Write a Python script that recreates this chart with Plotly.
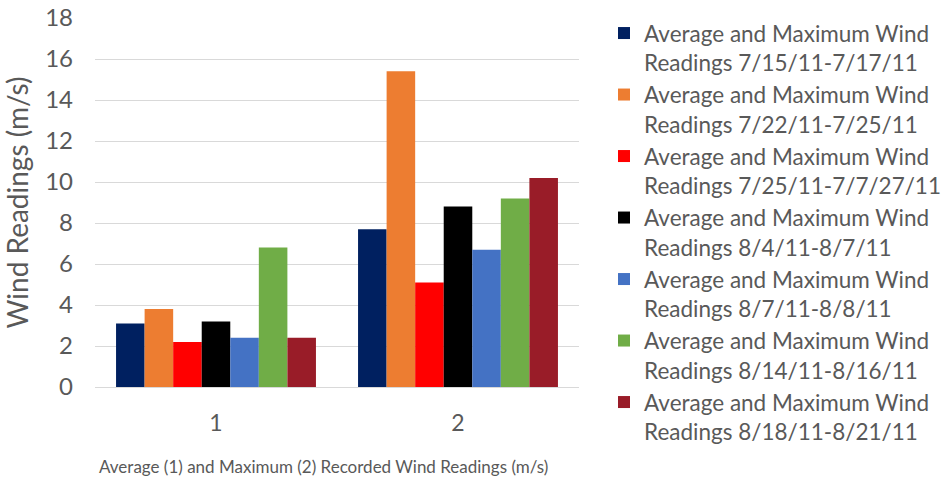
import plotly.graph_objects as go

categories = ["1", "2"]
series_names = [
    "Average and Maximum Wind<br>Readings 7/15/11-7/17/11",
    "Average and Maximum Wind<br>Readings 7/22/11-7/25/11",
    "Average and Maximum Wind<br>Readings 7/25/11-7/7/27/11",
    "Average and Maximum Wind<br>Readings 8/4/11-8/7/11",
    "Average and Maximum Wind<br>Readings 8/7/11-8/8/11",
    "Average and Maximum Wind<br>Readings 8/14/11-8/16/11",
    "Average and Maximum Wind<br>Readings 8/18/11-8/21/11",
]
series_values = [
    [3.1, 7.7],
    [3.8, 15.4],
    [2.2, 5.1],
    [3.2, 8.8],
    [2.4, 6.7],
    [6.8, 9.2],
    [2.4, 10.2],
]
series_colors = ["#002060", "#ED7D31", "#FF0000", "#000000", "#4472C4", "#70AD47", "#991C28"]
y_ticks = [0, 2, 4, 6, 8, 10, 12, 14, 16, 18]

FONT = "Lato"
GREY = "#595959"

fig = go.Figure()
for name, vals, col in zip(series_names, series_values, series_colors):
    fig.add_trace(go.Bar(x=categories, y=vals, name=name, marker=dict(color=col, line=dict(width=0))))

fig.update_layout(
    width=945,
    height=490,
    margin=dict(l=95, r=366, t=18, b=103, autoexpand=False),
    plot_bgcolor="white",
    paper_bgcolor="white",
    barmode="group",
    bargap=0.174,
    bargroupgap=0,
    font=dict(family=FONT, color=GREY, size=22),
    xaxis=dict(
        type="category",
        showgrid=False,
        showline=False,
        ticks="",
        ticklabelstandoff=20,
        tickfont=dict(size=23, color=GREY),
    ),
    yaxis=dict(
        range=[0, 18],
        tickvals=y_ticks,
        showgrid=True,
        gridcolor="#D9D9D9",
        gridwidth=1,
        zeroline=True,
        zerolinecolor="#D9D9D9",
        zerolinewidth=1,
        showline=False,
        ticks="",
        ticklabelstandoff=21,
        tickfont=dict(size=24, color=GREY),
        title=dict(text="Wind Readings (m/s)", font=dict(size=28, color=GREY), standoff=12),
    ),
    legend=dict(
        x=1.0517,
        xanchor="left",
        y=1.0165,
        yanchor="top",
        valign="top",
        maxheight=480,
        font=dict(size=22.5, color=GREY),
        bgcolor="rgba(0,0,0,0)",
        tracegroupgap=0,
    ),
    annotations=[
        dict(
            text="Average (1) and Maximum (2) Recorded Wind Readings (m/s)",
            xref="paper", yref="paper",
            x=0.473, y=-0.215,
            xanchor="center", yanchor="middle",
            showarrow=False,
            font=dict(size=17, color=GREY, family=FONT),
        )
    ],
)

fig.write_html("out.html")
